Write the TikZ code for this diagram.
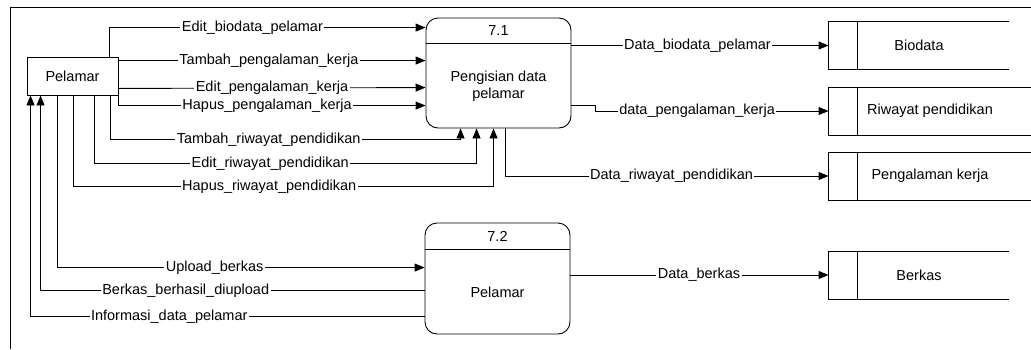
\documentclass[tikz,border=0pt]{standalone}
\usepackage{fontspec}
\setmainfont{Liberation Sans}
\usepackage{tikz}
\usetikzlibrary{arrows.meta}

\begin{document}
\begin{tikzpicture}[x=1pt,y=-1pt,
            font=\fontsize{14.5}{17}\selectfont,
            line width=0.9pt,
            entity node/.style={rectangle,draw,minimum width=91pt,minimum height=38pt,inner sep=1pt},
            process node/.style={rectangle,draw,rounded corners=12pt,minimum width=145pt,minimum height=110pt},
            store node/.style={rectangle,minimum height=47pt,inner sep=1pt},
            flow/.style={-{Triangle[length=10pt,width=8pt]}},
            flow label/.style={fill=white,inner sep=1.5pt},
            ]
            \def\W{1031}
            \def\H{349}
            \useasboundingbox (0,0) rectangle (\W,\H);

            \draw (10,\H) -- (10,7) -- (\W,7);

            \node[entity node] (pelamar) at (72.5,76) {Pelamar};
            \node[process node] (p71) at (498.5,73) {};
            \node[process node, minimum height=111pt] (p72) at (497.5,278.5) {};
            \node (p71 id) at ([yshift=-13pt]p71.north) {7.1};
            \node[align=center] (p71 title) at ([yshift=42pt]p71.south) {Pengisian data\\pelamar};
            \node (p72 id) at ([yshift=-14pt]p72.north) {7.2};
            \node (p72 title) at ([yshift=42pt]p72.south) {Pelamar};
            \draw ([yshift=-26pt]p71.north west) -- ([yshift=-26pt]p71.north east);
            \draw ([yshift=-27pt]p72.north west) -- ([yshift=-27pt]p72.north east);

            \node[store node, minimum width=180pt] (bio) at (919,45.5) {Biodata};
            \node[store node, minimum width=202pt] (riw) at (930,111) {Riwayat pendidikan};
            \node[store node, minimum width=202pt] (peng) at (930,176) {Pengalaman kerja};
            \node[store node, minimum width=180pt] (berkas) at (919,275) {Berkas};
            \foreach \s in {bio,riw,peng,berkas} {
                \draw (\s.north east) -- (\s.north west) -- (\s.south west) -- (\s.south east);
                \draw ([xshift=29pt]\s.north west) -- ([xshift=29pt]\s.south west);
            }

            \draw[flow] ([xshift=83pt]pelamar.north west) |- node[flow label, pos=0.726] {Edit\_biodata\_pelamar} ([yshift=-10pt]p71.north west);
            \draw[flow] ([yshift=-4pt]pelamar.north east) -- node[flow label, pos=0.49] {Tambah\_pengalaman\_kerja} ([yshift=-43pt]p71.north west);
            \draw[flow] ([yshift=7pt]pelamar.south east) -- node[flow label, pos=0.5] {Edit\_pengalaman\_kerja} ([yshift=-70pt]p71.north west);
            \draw[flow] (pelamar.south east) |- node[flow label, pos=0.742] {Hapus\_pengalaman\_kerja} ([yshift=-88pt]p71.north west);
            \draw[flow] ([xshift=-8pt]pelamar.south east) |- node[flow label, pos=0.726] {Tambah\_riwayat\_pendidikan} ([xshift=35pt,yshift=-11pt]p71.south west) -- ([xshift=35pt]p71.south west);
            \draw[flow] ([xshift=-24pt]pelamar.south east) |- node[flow label, pos=0.73] {Edit\_riwayat\_pendidikan} ([xshift=51pt,yshift=-35pt]p71.south west) -- ([xshift=51pt]p71.south west);
            \draw[flow] ([xshift=-45pt]pelamar.south east) |- node[flow label, pos=0.733] {Hapus\_riwayat\_pendidikan} ([xshift=68pt,yshift=-58pt]p71.south west) -- ([xshift=68pt]p71.south west);

            \draw[flow] ([xshift=31pt]pelamar.south west) |- node[flow label, pos=0.714] {Upload\_berkas} ([yshift=-45pt]p72.north west);
            \draw[flow] ([yshift=-68pt]p72.north west) -| node[flow label, pos=0.311] {Berkas\_berhasil\_diupload} ([xshift=14pt]pelamar.south west);
            \draw[flow] ([yshift=-94pt]p72.north west) -| node[flow label, pos=0.324] {Informasi\_data\_pelamar} ([xshift=4pt]pelamar.south west);

            \draw[flow] (p71.east |- bio.west) -- node[flow label, pos=0.49] {Data\_biodata\_pelamar} (bio.west);
            \draw[flow] ([yshift=-88pt]p71.north east) -- ++(24,0) |- node[flow label, pos=0.718] {data\_pengalaman\_kerja} (riw.west);
            \draw[flow] ([xshift=80pt]p71.south west) |- node[flow label, pos=0.757] {Data\_riwayat\_pendidikan} (peng.west);
            \draw[flow] (p72.east |- berkas.west) -- node[flow label, pos=0.498] {Data\_berkas} (berkas.west);
        \end{tikzpicture}
\end{document}
